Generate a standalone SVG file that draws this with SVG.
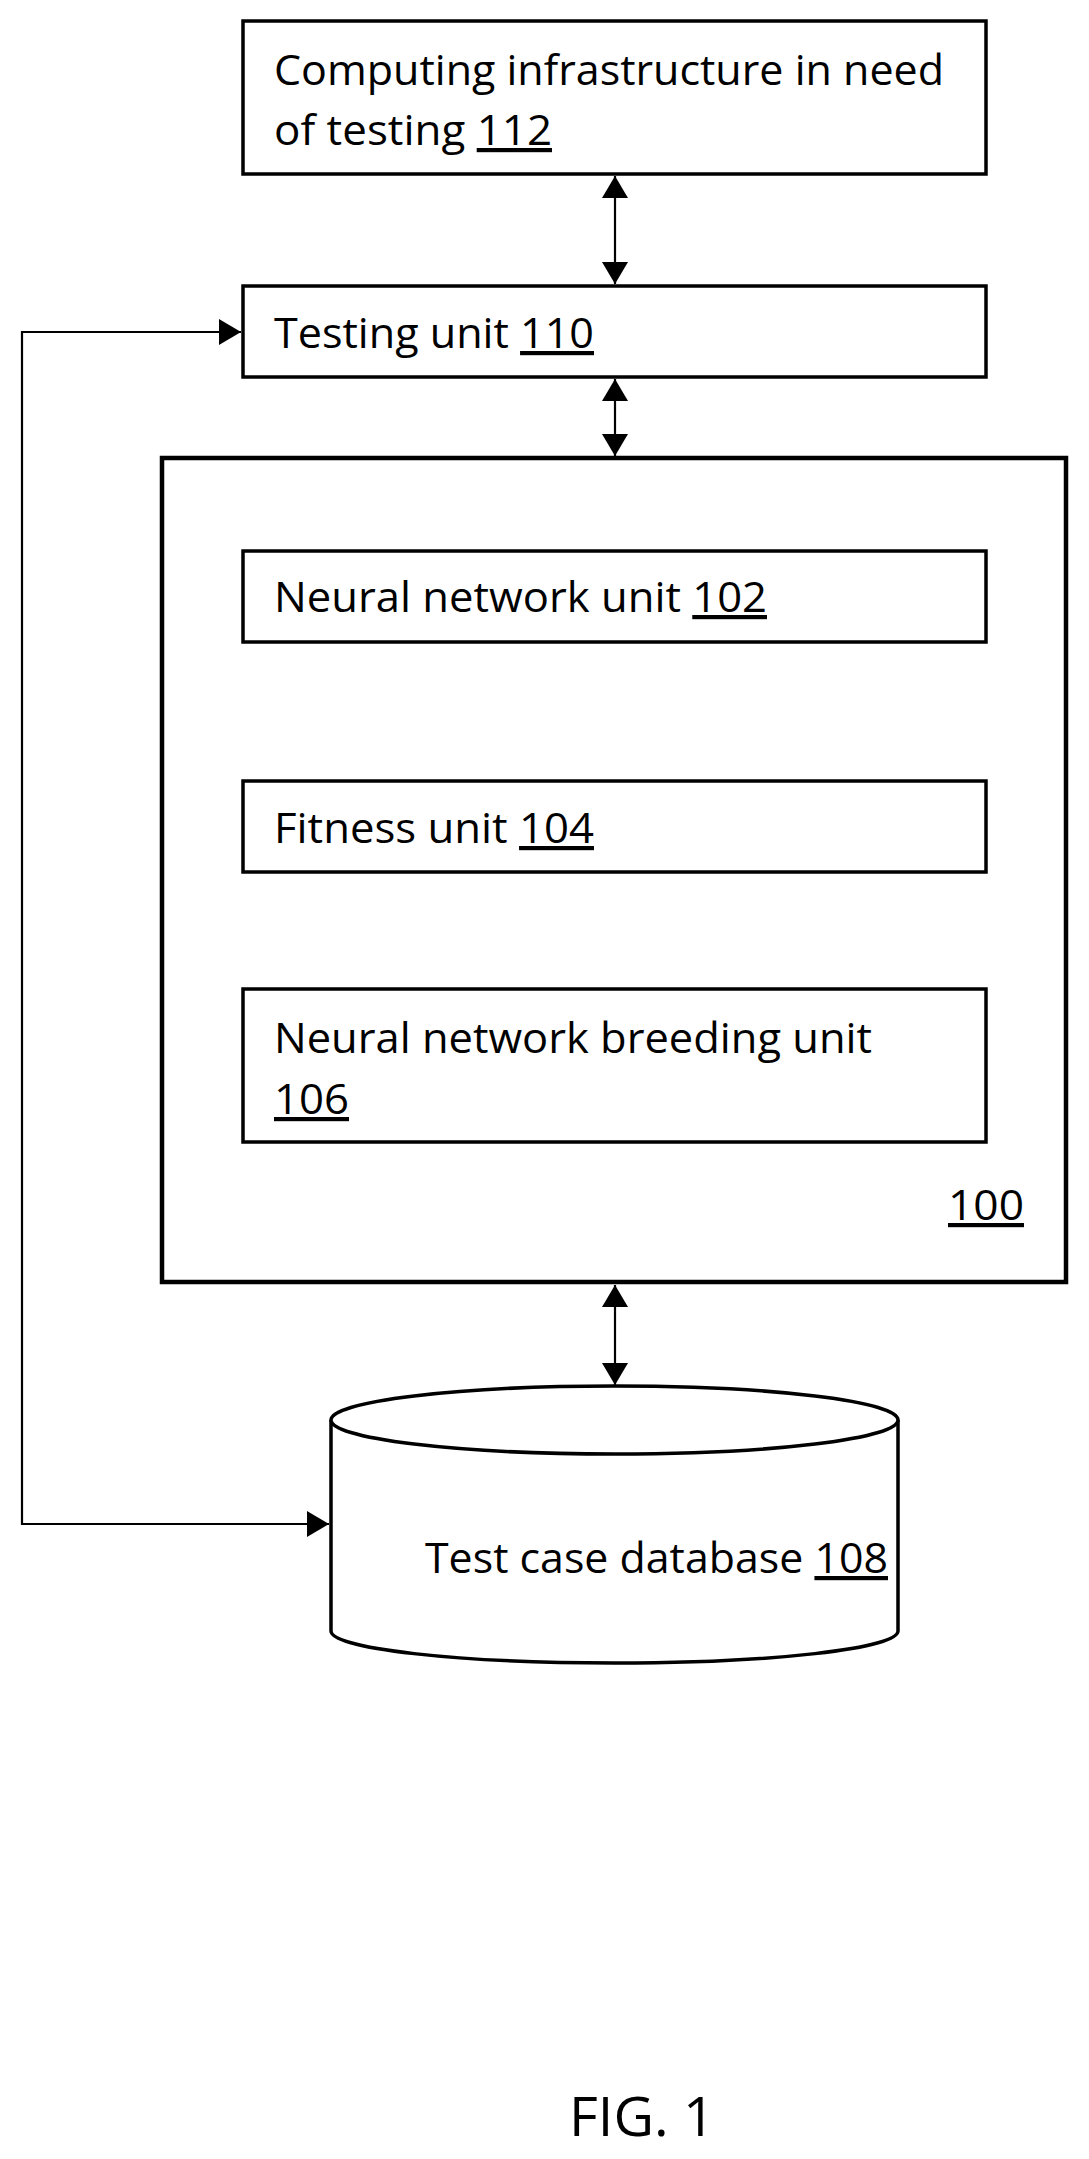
<svg xmlns="http://www.w3.org/2000/svg" width="1089" height="2159" viewBox="0 0 1089 2159">
<style>
.b{fill:#fff;stroke:#000;stroke-width:3.5}
.t{font-family:"Open Sans","Liberation Sans",sans-serif;font-size:42px;fill:#000}
.u{text-decoration:underline}
.c{fill:none;stroke:#000;stroke-width:2.2}
</style>
<defs>
<marker id="h" viewBox="0 0 22 26" refX="22" refY="13" markerWidth="22" markerHeight="26" markerUnits="userSpaceOnUse" orient="auto-start-reverse"><path d="M0,0 L22,13 L0,26 Z"/></marker>
</defs>
<g id="n112"><rect class="b" x="243" y="21" width="743" height="153"/>
<text class="t" x="274" y="85" textLength="670" lengthAdjust="spacingAndGlyphs">Computing infrastructure in need</text>
<text class="t" x="274" y="145" textLength="278" lengthAdjust="spacingAndGlyphs">of testing <tspan class="u">112</tspan></text></g>
<g id="n110"><rect class="b" x="243" y="286" width="743" height="91"/>
<text class="t" x="274" y="348" textLength="320" lengthAdjust="spacingAndGlyphs">Testing unit <tspan class="u">110</tspan></text></g>
<g id="n100"><rect class="b" style="stroke-width:4.5" x="162" y="458" width="904" height="824"/>
<text class="t" x="948" y="1220" textLength="76" lengthAdjust="spacingAndGlyphs"><tspan class="u">100</tspan></text></g>
<g id="n102"><rect class="b" x="243" y="551" width="743" height="91"/>
<text class="t" x="274" y="612" textLength="493" lengthAdjust="spacingAndGlyphs">Neural network unit <tspan class="u">102</tspan></text></g>
<g id="n104"><rect class="b" x="243" y="781" width="743" height="91"/>
<text class="t" x="274" y="843" textLength="320" lengthAdjust="spacingAndGlyphs">Fitness unit <tspan class="u">104</tspan></text></g>
<g id="n106"><rect class="b" x="243" y="989" width="743" height="153"/>
<text class="t" x="274" y="1053" textLength="598" lengthAdjust="spacingAndGlyphs">Neural network breeding unit</text>
<text class="t" x="274" y="1114" textLength="75" lengthAdjust="spacingAndGlyphs"><tspan class="u">106</tspan></text></g>
<g id="n108"><path class="b" d="M331,1420 V1631 A283.5,32 0 0 0 898,1631 V1420"/>
<ellipse class="b" cx="614.5" cy="1420" rx="283.5" ry="34"/>
<text class="t" x="425" y="1573" textLength="463" lengthAdjust="spacingAndGlyphs">Test case database <tspan class="u">108</tspan></text></g>
<g id="connectors">
<line class="c" x1="615" y1="176" x2="615" y2="284" marker-start="url(#h)" marker-end="url(#h)"/>
<line class="c" x1="615" y1="379" x2="615" y2="456" marker-start="url(#h)" marker-end="url(#h)"/>
<line class="c" x1="615" y1="1285" x2="615" y2="1385" marker-start="url(#h)" marker-end="url(#h)"/>
<polyline class="c" points="241,332 22,332 22,1524 329,1524" marker-start="url(#h)" marker-end="url(#h)"/>
</g>
<text class="t" style="font-size:54px" x="569" y="2136" textLength="146" lengthAdjust="spacingAndGlyphs">FIG. 1</text>
</svg>
